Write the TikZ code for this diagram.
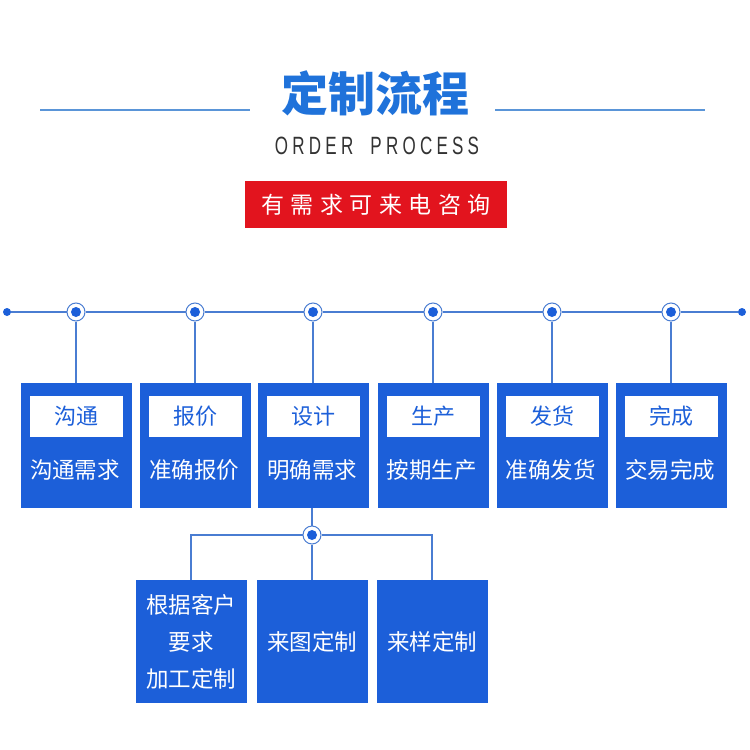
\documentclass[tikz,border=0pt]{standalone}
\usepackage{fontspec}
\usepackage{graphicx}
\newfontfamily\cjk{Noto Sans CJK SC}
\newfontfamily\cjkspaced[LetterSpace=28]{Noto Sans CJK SC}
\newfontfamily\engfont[LetterSpace=25]{Liberation Sans}
\definecolor{boxblue}{HTML}{1C5FD9}
\definecolor{titleblue}{HTML}{1F72DA}
\definecolor{linecol}{HTML}{4A7DD2}
\definecolor{sidecol}{HTML}{5A95D8}
\definecolor{bannerred}{HTML}{E2141E}
\definecolor{engcol}{HTML}{333333}
\tikzset{
  stepbox/.style={rectangle, fill=boxblue, minimum width=111pt, minimum height=125pt, inner sep=0pt},
  subbox/.style={rectangle, fill=boxblue, minimum width=111pt, minimum height=123pt, inner sep=0pt,
     text=white, font=\cjk\fontsize{22.5}{37}\selectfont, align=center},
  labelbox/.style={rectangle, fill=white, minimum width=93pt, minimum height=41pt, inner sep=0pt,
     text=boxblue, font=\cjk\fontsize{22}{24}\selectfont},
  desctext/.style={text=white, font=\cjk\fontsize{22.5}{24}\selectfont, inner sep=0pt},
  hub/.style={circle, draw=linecol, line width=1pt, fill=white, minimum size=18pt, inner sep=0pt,
     path picture={\fill[boxblue] (path picture bounding box.center) circle[radius=5pt];}},
  enddot/.style={circle, fill=boxblue, minimum size=8pt, inner sep=0pt},
  conn/.style={draw=linecol, line width=1.2pt},
}
\begin{document}
\begin{tikzpicture}[x=1pt,y=-1pt]
\useasboundingbox[fill=white] (0,0) rectangle (750,750);

% title
\node[text=titleblue, font=\cjk\bfseries\fontsize{47}{50}\selectfont, inner sep=0pt] (title) at (375,93) {定制流程};
\coordinate (tl1) at (40,110);
\coordinate (tl2) at (250,110);
\coordinate (tr1) at (495,110);
\coordinate (tr2) at (705,110);
\draw[sidecol, line width=2pt] (tl1) -- (tl2);
\draw[sidecol, line width=2pt] (tr1) -- (tr2);
\node[text=engcol, inner sep=0pt] (eng) at (377,146) {\scalebox{0.68}[1]{\engfont\fontsize{25}{25}\selectfont ORDER\hspace{12pt} PROCESS}};
\node[fill=bannerred, minimum width=262pt, minimum height=47pt, inner sep=0pt, text=white,
      font=\cjkspaced\fontsize{23}{25}\selectfont] (banner) at (376,204.5) {有需求可来电咨询};

% timeline
\node[enddot] (L) at (7,312) {};
\node[enddot] (R) at (742,312) {};
\foreach \i/\x in {1/76,2/195,3/313,4/433,5/552,6/671} {
  \node[hub] (c\i) at (\x,312) {};
}
\path[conn] (L) -- (c1) -- (c2) -- (c3) -- (c4) -- (c5) -- (c6) -- (R);

% top boxes
\foreach \i/\x/\lab/\desc in {1/76.5/沟通/沟通需求, 2/195.5/报价/准确报价, 3/313.5/设计/明确需求,
                              4/433/生产/按期生产, 5/552/发货/准确发货, 6/671.5/完成/交易完成} {
  \node[stepbox] (b\i) at (\x,445.5) {};
  \node[labelbox] (lab\i) at (\x,416.5) {\lab};
  \node[desctext] (d\i) at (\x-1.5,470) {\desc};
  \path[conn] (c\i.south) -- (c\i.south |- b\i.north);
}

% bottom boxes
\node[subbox] (s1) at (191,641.5) {根据客户\\要求\\加工定制};
\node[subbox] (s2) at (312,641.5) {来图定制};
\node[subbox] (s3) at (432,641.5) {来样定制};
\node[hub] (J) at (312,535) {};
\path[conn] (b3.south -| J) -- (J.north);
\path[conn] (J.south) -- (s2.north);
\path[conn] (J.west) -| (s1.north);
\path[conn] (J.east) -| (s3.north);
\end{tikzpicture}
\end{document}
